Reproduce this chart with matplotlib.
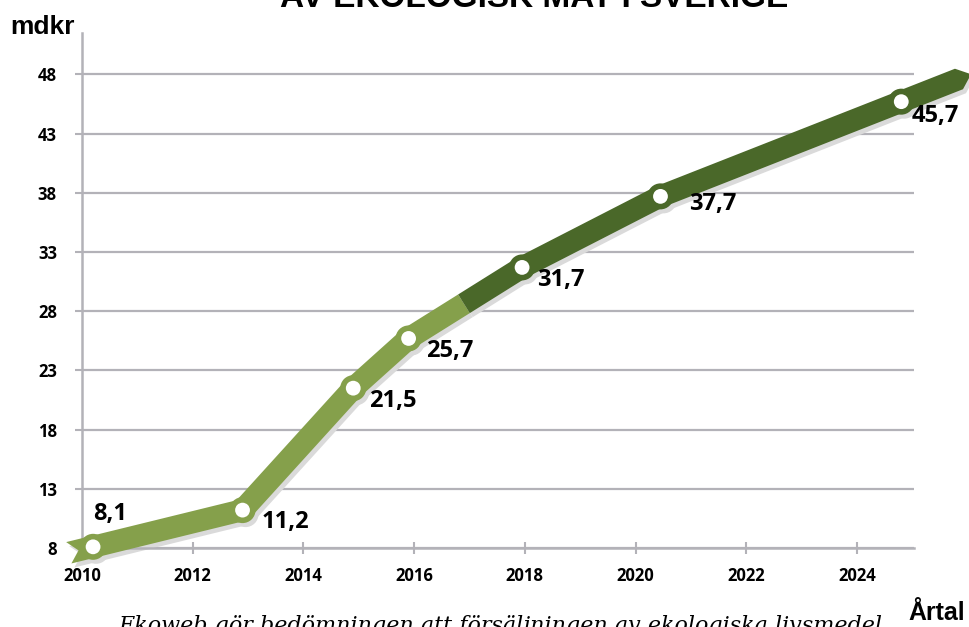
import numpy as np
import matplotlib.pyplot as plt
from matplotlib.patches import Polygon, Circle
from matplotlib.transforms import IdentityTransform

# data
years = [2010.2, 2012.9, 2014.9, 2015.9, 2017.95, 2020.45, 2024.8]
values = [8.1, 11.2, 21.5, 25.7, 31.7, 37.7, 45.7]
value_labels = [f"{v:.1f}".replace(".", ",") for v in values]
label_offsets = [(17, 33), (19, -12), (16, -13), (17, -13), (15, -13), (29, -8), (10, -14)]
split_year = 2016.9   # colour changes from light to dark green here

x_ticks = list(range(2010, 2025, 2))
y_ticks = list(range(8, 49, 5))

light = '#85a04b'
dark = '#4a6829'
shadow = '#dadada'
grid_col = '#b3b2b8'
tick_font = ['Open Sans', 'DejaVu Sans']
narrow = ['Liberation Sans Narrow', 'Liberation Sans', 'DejaVu Sans']

fig = plt.figure(figsize=(9.69, 6.27), dpi=100)
ax = fig.add_axes([82/969, 1 - 548/627, (914-82)/969, (548-33)/627])
ax.set_xlim(2010, 2025.03)
ax.set_ylim(8, 51.5)
ax.set_autoscale_on(False)

ax.set_xticks(x_ticks)
ax.set_yticks(y_ticks)
ax.set_xticklabels([str(t) for t in x_ticks], fontfamily=tick_font, fontweight='bold', fontsize=12)
ax.set_yticklabels([str(t) for t in y_ticks], fontfamily=tick_font, fontweight='bold', fontsize=12)
ax.tick_params(axis='x', direction='inout', length=9, width=1.5, color=grid_col, pad=9)
ax.tick_params(axis='y', direction='out', length=5, width=1.5, color=grid_col, pad=13)
ax.grid(axis='y', color=grid_col, lw=1.6)
ax.set_axisbelow(True)
for s in ['top', 'right']:
    ax.spines[s].set_visible(False)
for s in ['left', 'bottom']:
    ax.spines[s].set_color(grid_col)
    ax.spines[s].set_linewidth(1.8)

# ribbon built in pixel space
pts = ax.transData.transform(np.column_stack([years, values]))

def unit(v):
    return v / np.hypot(v[0], v[1])

d0 = unit(pts[1] - pts[0])
d1 = unit(pts[-1] - pts[-2])
tail = pts[0] - d0 * 25
head = pts[-1] + d1 * 62
t = (split_year - years[3]) / (years[4] - years[3])
split = pts[3] + t * (pts[4] - pts[3])

def sides(path, w):
    left, right = [], []
    n = len(path)
    for i in range(n):
        if i == 0:
            d = unit(path[1] - path[0])
            m = np.array([-d[1], d[0]]) * w
        elif i == n - 1:
            d = unit(path[-1] - path[-2])
            m = np.array([-d[1], d[0]]) * w
        else:
            da = unit(path[i] - path[i-1])
            db = unit(path[i+1] - path[i])
            na = np.array([-da[1], da[0]])
            nb = np.array([-db[1], db[0]])
            mm = na + nb
            m = mm / np.dot(mm, na) * w
        left.append(path[i] + m)
        right.append(path[i] - m)
    return left, right

w = 11
light_path = [tail] + list(pts[:4]) + [split]
dark_path = [split] + list(pts[4:]) + [head]

l1, r1 = sides(light_path, w)
poly_light = l1 + r1[::-1] + [tail + d0 * 10]
l2, r2 = sides(dark_path, w)
poly_dark = l2 + [head + d1 * 13] + r2[::-1]

off = np.array([3, -4])
for poly in [poly_light, poly_dark]:
    ax.add_patch(Polygon(np.array(poly) + off, closed=True, fc=shadow, ec='none',
                         transform=IdentityTransform(), clip_on=False, zorder=2))
for p in pts:
    ax.add_patch(Circle(p + off, 13, fc=shadow, ec='none',
                        transform=IdentityTransform(), clip_on=False, zorder=2))

ax.add_patch(Polygon(np.array(poly_light), closed=True, fc=light, ec='none',
                     transform=IdentityTransform(), clip_on=False, zorder=3))
ax.add_patch(Polygon(np.array(poly_dark), closed=True, fc=dark, ec='none',
                     transform=IdentityTransform(), clip_on=False, zorder=3))

for yr, p in zip(years, pts):
    col = light if yr < split_year else dark
    ax.add_patch(Circle(p, 13, fc=col, ec='none',
                        transform=IdentityTransform(), clip_on=False, zorder=4))
    ax.add_patch(Circle(p, 7.4, fc='white', ec='none',
                        transform=IdentityTransform(), clip_on=False, zorder=5))

for i, (yr, v, lab) in enumerate(zip(years, values, value_labels)):
    dx, dy = label_offsets[i]
    ax.annotate(lab, xy=(yr, v), xytext=(dx, dy), textcoords='offset pixels',
                ha='center' if i == 0 else 'left', va='center',
                fontfamily=tick_font, fontweight='bold', fontsize=17, zorder=6,
                annotation_clip=False)

# texts around the chart
fig.text(534/969, 1 - 7/627, 'AV EKOLOGISK MAT I SVERIGE', ha='center', va='baseline',
         fontfamily=narrow, fontweight='bold', fontsize=24)
fig.text(10/969, 1 - 34/627, 'mdkr', ha='left', va='baseline',
         fontfamily=narrow, fontweight='bold', fontsize=19)
fig.text(965/969, 1 - 620/627, 'Årtal', ha='right', va='baseline',
         fontfamily=narrow, fontweight='bold', fontsize=18)
fig.text(118/969, -5/627, 'Ekoweb gör bedömningen att försäljningen av ekologiska livsmedel',
         ha='left', va='baseline', fontfamily='DejaVu Serif', fontstyle='italic', fontsize=16)

fig.savefig('out.png', dpi=100)
